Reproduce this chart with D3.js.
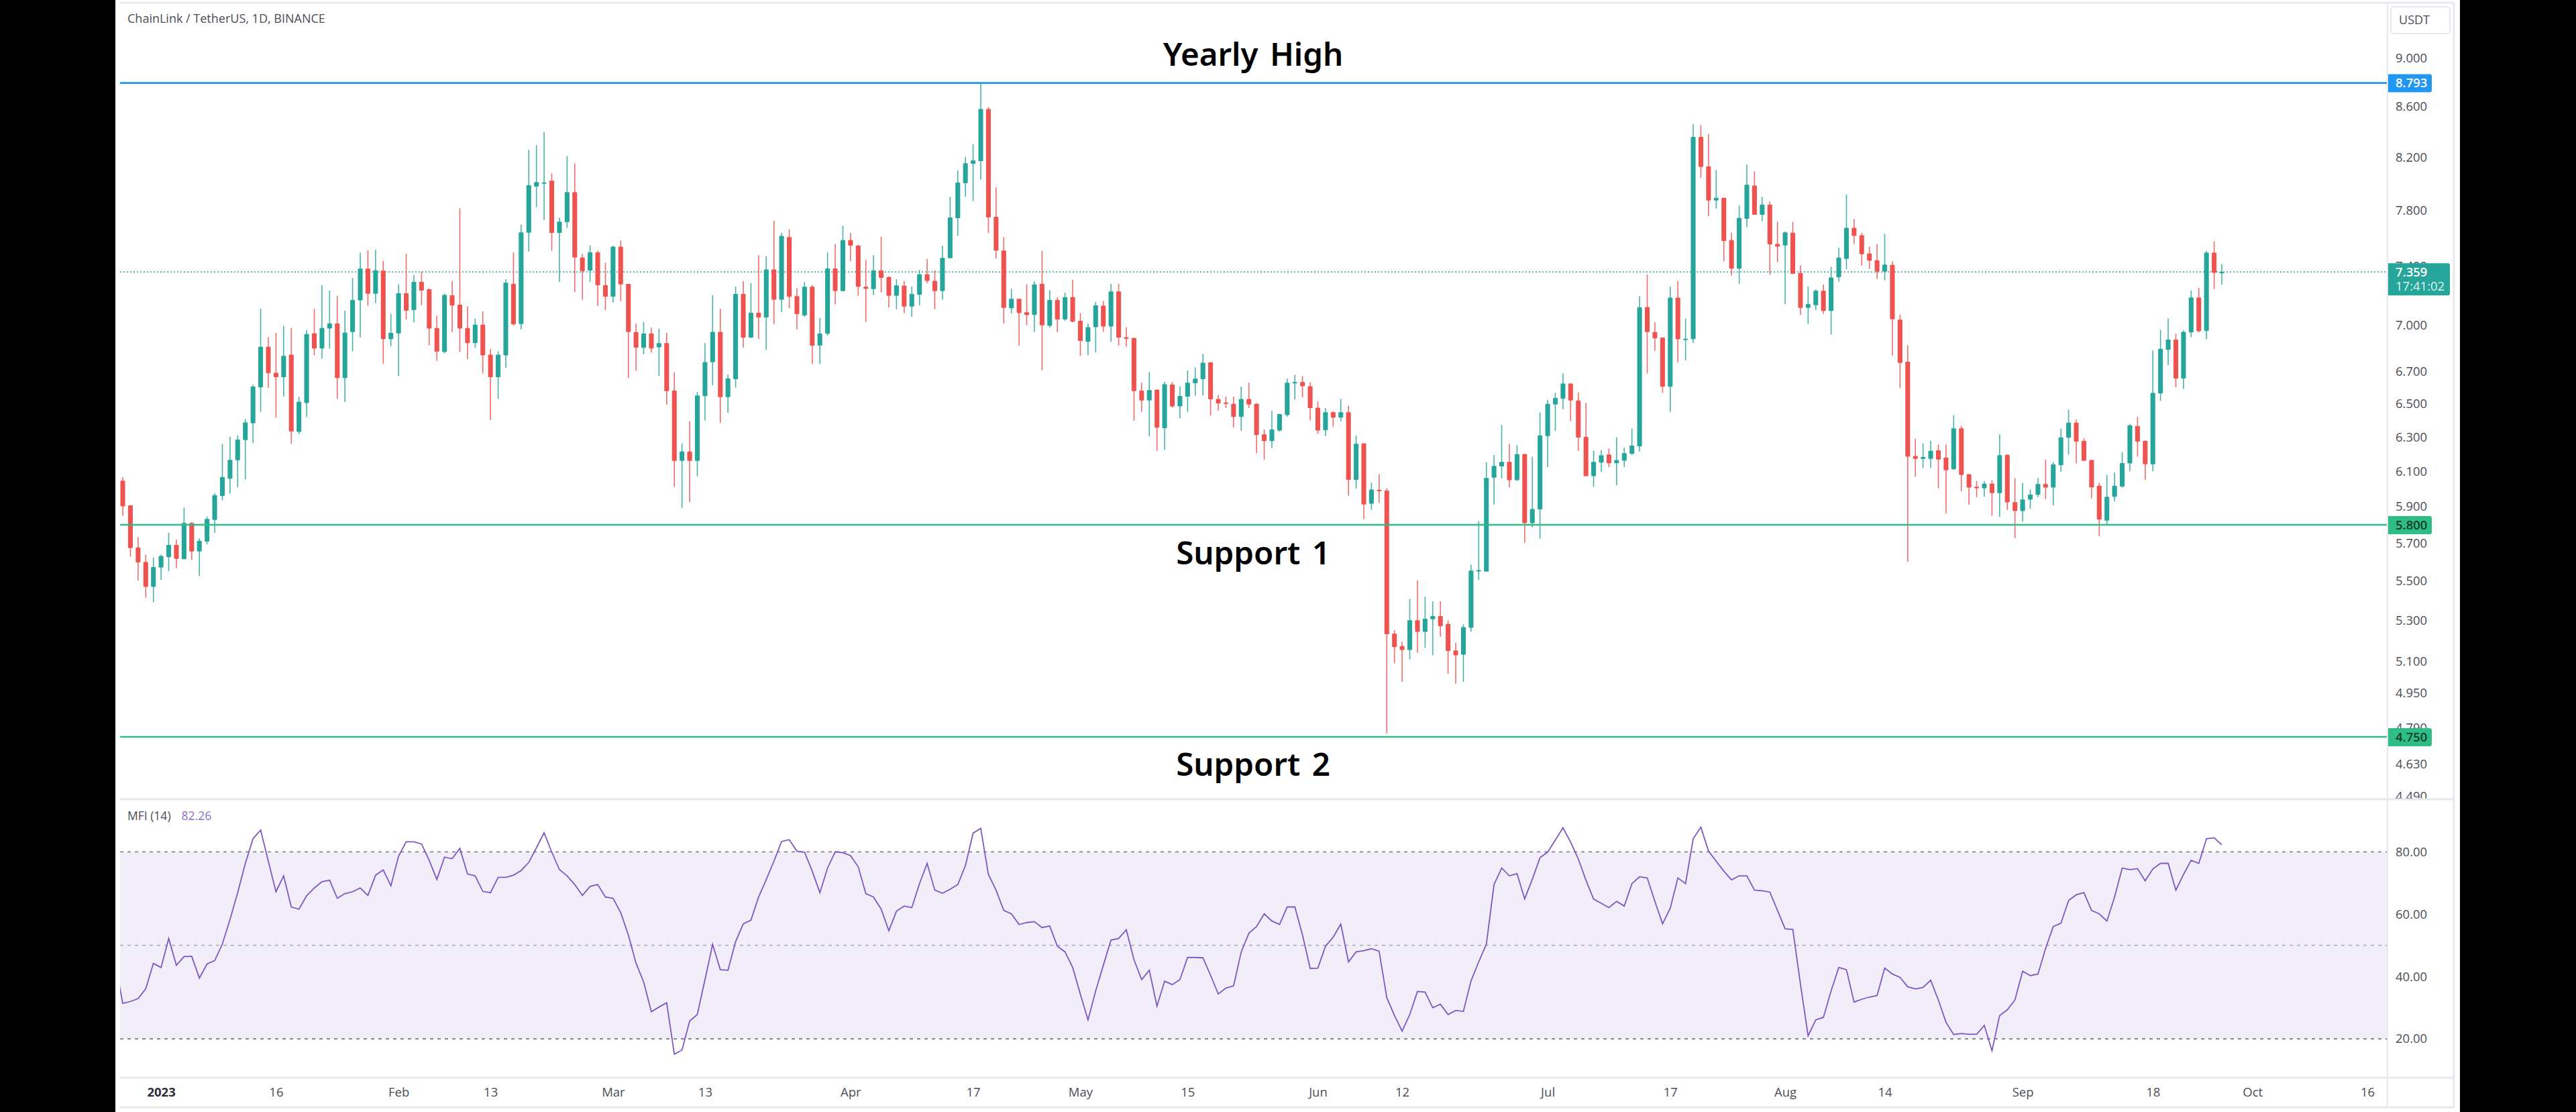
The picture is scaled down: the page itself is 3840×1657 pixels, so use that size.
<!DOCTYPE html>
<html>
<head>
<meta charset="utf-8">
<script src="https://cdn.jsdelivr.net/npm/d3@7"></script>
<style>
  html, body { margin: 0; padding: 0; background: #000; overflow: hidden; }
  text { font-family: "Open Sans", sans-serif; }
  .axis text { font-size: 18.5px; fill: #4a4d58; font-weight: 500; }
  .axis path, .axis line { display: none; }
</style>
</head>
<body>
<svg id="chart"></svg>
<script>
const width = 3840
const height = 1657

const firstDay = new Date(Date.UTC(2022, 11, 27))

const opens = [
  6.046,5.907,5.678,5.600,5.471,5.571,5.626,5.691,5.615,5.810,
  5.656,5.709,5.827,5.960,6.058,6.164,6.282,6.382,6.601,6.859,
  6.693,6.665,6.808,6.331,6.505,6.946,6.848,6.978,7.011,6.660,
  6.954,7.165,7.383,7.210,7.368,6.909,6.946,7.213,7.100,7.291,
  7.240,6.981,6.825,7.199,7.136,6.981,6.882,7.003,6.808,6.665,
  6.803,7.277,7.008,7.636,7.976,8.001,8.020,7.635,7.713,7.934,
  7.460,7.368,7.497,7.268,7.190,7.537,7.277,6.954,6.852,6.945,
  6.855,6.882,6.581,6.160,6.215,6.160,6.547,6.759,6.956,6.541,
  6.653,7.208,6.918,7.082,7.051,7.377,7.170,7.605,7.194,7.064,
  7.258,6.866,6.943,7.384,7.228,7.583,7.544,7.258,7.242,7.370,
  7.324,7.196,7.265,7.124,7.203,7.343,7.298,7.228,7.455,7.742,
  8.001,8.149,8.170,8.580,7.752,7.510,7.112,7.175,7.085,7.068,
  7.277,6.995,7.168,7.037,7.187,7.028,6.891,6.987,7.129,6.991,
  7.226,6.921,6.916,6.581,6.520,6.587,6.353,6.619,6.484,6.544,
  6.627,6.652,6.758,6.530,6.508,6.500,6.420,6.530,6.500,6.316,
  6.276,6.339,6.431,6.633,6.635,6.609,6.476,6.341,6.449,6.416,
  6.449,6.051,6.262,5.917,5.994,5.990,5.235,5.174,5.155,5.301,
  5.244,5.306,5.322,5.283,5.153,5.132,5.264,5.552,5.550,6.063,
  6.128,6.154,6.049,6.199,5.809,5.885,6.306,6.496,6.532,6.625,
  6.520,6.301,6.072,6.150,6.197,6.146,6.161,6.201,6.245,7.120,
  6.954,6.918,6.605,7.184,6.907,6.909,8.358,8.128,7.871,7.891,
  7.583,7.383,7.737,7.983,7.766,7.840,7.556,7.545,7.637,7.352,
  7.115,7.133,7.230,7.094,7.323,7.450,7.671,7.618,7.488,7.441,
  7.362,7.408,7.036,6.763,6.188,6.172,6.172,6.221,6.179,6.111,
  6.352,6.082,6.012,6.003,6.029,5.976,6.195,5.925,5.876,5.939,
  5.966,6.027,6.007,6.135,6.296,6.386,6.277,6.165,6.017,5.823,
  5.955,6.013,6.145,6.366,6.277,6.140,6.564,6.839,6.905,6.657,
  6.952,7.185,6.962,7.494,7.354
]
const highs = [
  6.065,5.907,5.733,5.639,5.624,5.639,5.757,5.720,5.895,5.815,
  5.726,5.845,5.975,6.258,6.302,6.310,6.407,6.617,7.111,6.922,
  6.949,6.994,6.981,6.543,6.967,7.108,7.268,7.232,7.196,7.095,
  7.317,7.494,7.511,7.514,7.436,7.073,7.274,7.486,7.337,7.363,
  7.246,7.062,7.210,7.297,7.814,7.125,7.043,7.092,6.845,6.829,
  7.308,7.497,7.696,8.257,8.293,8.394,8.076,7.746,8.208,8.150,
  7.486,7.546,7.508,7.423,7.543,7.581,7.277,7.011,7.021,6.983,
  6.976,6.949,6.696,6.262,6.394,6.572,6.882,7.201,7.108,6.681,
  7.259,7.296,7.282,7.477,7.470,7.722,7.637,7.660,7.249,7.291,
  7.270,7.046,7.496,7.556,7.687,7.635,7.549,7.443,7.477,7.608,
  7.329,7.310,7.298,7.258,7.372,7.451,7.370,7.544,7.899,8.098,
  8.202,8.299,8.793,8.595,7.970,7.605,7.244,7.175,7.274,7.296,
  7.506,7.233,7.184,7.217,7.305,7.080,7.010,7.154,7.161,7.277,
  7.277,6.987,6.916,6.631,6.696,6.589,6.637,6.635,6.607,6.708,
  6.727,6.813,6.760,6.554,6.544,6.544,6.607,6.631,6.504,6.345,
  6.457,6.439,6.656,6.680,6.672,6.633,6.514,6.474,6.455,6.530,
  6.488,6.308,6.264,6.035,6.083,6.003,5.252,5.195,5.409,5.504,
  5.420,5.397,5.397,5.301,5.190,5.281,5.586,5.820,6.152,6.194,
  6.372,6.260,6.252,6.203,6.184,6.447,6.524,6.567,6.688,6.627,
  6.570,6.506,6.220,6.222,6.232,6.299,6.237,6.351,7.192,7.342,
  7.019,6.918,7.259,7.297,7.044,8.461,8.451,8.380,8.101,7.891,
  7.637,7.834,8.142,8.092,7.898,7.864,7.717,7.645,7.715,7.406,
  7.260,7.240,7.273,7.396,7.528,7.916,7.735,7.635,7.537,7.556,
  7.628,7.433,7.070,6.868,6.289,6.263,6.277,6.256,6.256,6.431,
  6.366,6.084,6.044,6.043,6.049,6.316,6.198,6.061,6.034,5.996,
  6.061,6.167,6.153,6.350,6.465,6.404,6.293,6.167,6.034,6.079,
  6.092,6.210,6.379,6.420,6.280,6.835,6.968,7.044,6.942,6.966,
  7.232,7.250,7.507,7.575,7.414
]
const lows = [
  5.850,5.628,5.503,5.415,5.392,5.507,5.552,5.569,5.615,5.611,
  5.528,5.694,5.755,5.936,5.973,6.008,6.053,6.265,6.451,6.598,
  6.417,6.545,6.260,6.316,6.419,6.803,6.782,6.848,6.530,6.512,
  6.829,6.919,7.128,7.147,6.751,6.861,6.672,7.037,7.017,7.133,
  6.867,6.769,6.817,6.954,6.825,6.779,6.853,6.688,6.402,6.530,
  6.724,6.997,6.970,7.502,7.822,7.727,7.506,7.291,7.671,7.221,
  7.171,7.291,7.128,7.100,7.149,7.160,6.660,6.706,6.810,6.822,
  6.674,6.495,6.010,5.893,5.924,6.071,6.399,6.614,6.384,6.446,
  6.600,6.853,6.916,6.909,6.839,7.006,7.085,7.112,6.972,7.055,
  6.750,6.750,6.931,7.138,7.228,7.434,7.196,7.023,7.201,7.219,
  7.117,7.105,7.080,7.055,7.131,7.282,7.105,7.170,7.455,7.613,
  7.899,7.868,8.029,7.635,7.453,7.010,7.078,6.866,6.999,6.954,
  6.709,6.983,6.954,7.028,7.017,6.800,6.805,6.822,6.955,6.891,
  6.866,6.859,6.396,6.452,6.305,6.217,6.225,6.476,6.412,6.451,
  6.550,6.550,6.428,6.459,6.474,6.357,6.337,6.474,6.205,6.167,
  6.234,6.333,6.422,6.526,6.538,6.400,6.318,6.306,6.361,6.394,
  5.961,6.001,5.831,5.882,5.921,4.765,5.090,5.003,5.110,5.142,
  5.166,5.129,5.220,5.041,4.995,5.003,5.244,5.506,5.550,5.912,
  6.059,6.008,6.045,5.703,5.786,5.725,6.124,6.337,6.467,6.394,
  6.218,6.072,6.011,6.096,6.124,6.020,6.124,6.195,6.215,6.688,
  6.834,6.567,6.451,6.758,6.771,6.883,8.042,7.757,7.812,7.433,
  7.335,7.277,7.677,7.766,7.721,7.341,7.427,7.141,7.344,7.066,
  7.007,7.100,7.074,6.938,7.292,7.377,7.556,7.404,7.381,7.310,
  7.302,6.801,6.597,5.602,6.068,6.118,6.120,6.003,5.863,6.108,
  5.986,5.911,5.952,5.955,5.849,5.843,5.881,5.727,5.817,5.889,
  5.952,5.942,5.907,6.097,6.196,6.145,6.158,5.947,5.739,5.800,
  5.929,6.007,6.100,6.184,6.051,6.100,6.517,6.740,6.603,6.592,
  6.921,6.952,6.907,7.242,7.273
]
const closes = [
  5.902,5.674,5.598,5.471,5.574,5.632,5.691,5.617,5.810,5.656,
  5.713,5.832,5.964,6.067,6.166,6.285,6.387,6.606,6.859,6.690,
  6.665,6.800,6.333,6.512,6.941,6.848,6.981,7.011,6.660,6.951,
  7.168,7.383,7.210,7.371,6.909,6.949,7.213,7.095,7.291,7.231,
  6.978,6.827,7.202,7.130,6.978,6.882,7.003,6.803,6.665,6.808,
  7.285,7.005,7.639,7.985,8.010,8.007,7.635,7.716,7.934,7.460,
  7.365,7.497,7.268,7.190,7.537,7.274,6.954,6.853,6.945,6.848,
  6.882,6.578,6.160,6.215,6.160,6.551,6.761,6.956,6.541,6.657,
  7.208,6.918,7.082,7.051,7.377,7.170,7.613,7.189,7.073,7.258,
  6.866,6.945,7.384,7.228,7.583,7.544,7.258,7.244,7.370,7.319,
  7.196,7.267,7.124,7.208,7.343,7.298,7.228,7.458,7.747,8.006,
  8.152,8.175,8.580,7.747,7.508,7.115,7.175,7.080,7.066,7.272,
  6.999,7.168,7.037,7.187,7.023,6.896,6.987,7.131,6.991,7.226,
  6.918,6.911,6.578,6.520,6.585,6.356,6.621,6.484,6.548,6.631,
  6.656,6.756,6.528,6.502,6.500,6.420,6.530,6.496,6.312,6.276,
  6.345,6.437,6.631,6.635,6.609,6.474,6.339,6.449,6.416,6.449,
  6.051,6.260,5.912,5.996,5.989,5.232,5.169,5.155,5.301,5.244,
  5.309,5.322,5.272,5.150,5.129,5.267,5.555,5.558,6.061,6.131,
  6.154,6.049,6.199,5.809,5.887,6.310,6.500,6.536,6.625,6.520,
  6.297,6.072,6.154,6.192,6.146,6.165,6.205,6.249,7.118,6.954,
  6.914,6.605,7.184,6.907,6.911,8.358,8.124,7.871,7.891,7.577,
  7.383,7.743,7.990,7.766,7.840,7.552,7.537,7.639,7.346,7.115,
  7.141,7.230,7.094,7.321,7.460,7.671,7.613,7.483,7.437,7.362,
  7.410,7.038,6.755,6.184,6.172,6.182,6.219,6.168,6.106,6.352,
  6.079,6.007,6.003,6.029,5.976,6.193,5.924,5.876,5.940,5.967,
  6.027,6.007,6.139,6.298,6.386,6.273,6.161,6.008,5.828,5.955,
  6.017,6.147,6.370,6.273,6.140,6.567,6.845,6.905,6.657,6.956,
  7.185,6.960,7.494,7.354,7.359
]

// first value is the day before the first candle, only its line stub shows
const mfi = [
  44.7,
  31.4,32.0,32.9,36.1,44.2,42.9,52.2,43.6,46.4,46.5,
  39.5,44.0,45.1,50.4,58.3,66.9,76.3,84.2,87.0,77.0,
  67.2,72.3,62.3,61.6,65.9,68.4,70.4,70.9,65.1,66.6,
  67.2,68.4,66.0,72.5,74.2,69.1,78.6,83.2,83.2,82.5,
  77.3,71.1,78.3,77.8,81.1,72.9,72.3,67.3,66.9,71.8,
  71.8,72.5,74.0,76.6,81.3,86.1,79.9,74.3,72.3,69.5,
  66.0,68.9,69.5,65.5,65.1,60.5,53.3,44.3,38.2,28.7,
  30.2,31.6,15.1,16.4,25.7,27.8,39.0,50.3,42.2,42.0,
  51.2,56.9,58.1,65.5,71.1,77.0,83.3,83.9,80.2,79.9,
  73.8,66.9,74.8,80.0,79.7,78.8,75.2,66.6,65.5,61.6,
  54.7,61.0,62.6,62.1,69.8,76.3,67.7,66.7,68.0,69.5,
  75.6,86.0,87.5,72.7,67.7,61.2,60.1,56.7,57.3,57.6,
  55.7,56.2,49.7,47.9,42.9,34.3,26.1,35.4,43.6,51.7,
  52.2,55.0,45.4,39.0,42.0,30.5,38.5,37.4,39.0,46.1,
  46.1,46.0,40.4,34.4,36.3,37.0,47.9,53.9,56.0,60.1,
  57.8,56.7,62.3,62.3,53.3,42.6,42.7,49.7,52.6,56.8,
  44.7,47.9,48.3,48.9,48.1,33.2,27.5,22.5,27.8,35.2,
  35.0,30.0,31.1,27.8,29.1,28.8,38.6,44.7,50.4,69.5,
  74.8,72.3,73.0,64.9,71.2,78.1,79.9,83.8,87.7,83.1,
  77.7,70.9,64.8,63.5,62.1,64.1,62.6,69.8,72.0,71.6,
  64.1,56.9,61.9,71.6,69.8,84.2,87.9,80.2,77.0,73.8,
  71.0,72.3,72.3,67.7,67.5,67.1,61.2,55.3,55.1,37.5,
  21.0,26.1,26.9,35.4,42.9,42.2,31.8,32.7,33.4,33.9,
  42.7,40.8,39.7,36.7,36.0,36.5,38.8,32.5,25.3,21.4,
  21.7,21.5,21.5,24.3,16.2,27.5,29.3,32.5,41.7,40.3,
  40.8,49.0,56.0,57.1,64.4,66.2,66.9,61.2,60.1,57.8,
  65.5,74.8,74.3,74.6,70.7,74.5,76.3,76.3,67.7,72.7,
  77.3,76.3,84.2,84.5,82.26
]

const priceTicks = [9, 8.6, 8.2, 7.8, 7.4, 7, 6.7, 6.5, 6.3, 6.1, 5.9, 5.7, 5.5, 5.3, 5.1, 4.95, 4.79, 4.63, 4.49]
const mfiTicks = [80, 60, 40, 20]
const mfiBands = [80, 50, 20]
const timeTickDates = [
  [2023, 0, 1], [2023, 0, 16], [2023, 1, 1], [2023, 1, 13], [2023, 2, 1], [2023, 2, 13],
  [2023, 3, 1], [2023, 3, 17], [2023, 4, 1], [2023, 4, 15], [2023, 5, 1], [2023, 5, 12],
  [2023, 6, 1], [2023, 6, 17], [2023, 7, 1], [2023, 7, 14], [2023, 8, 1], [2023, 8, 18],
  [2023, 9, 1], [2023, 9, 16]
].map(d => new Date(Date.UTC(d[0], d[1], d[2])))
const timeTickLabels = ['2023', '16', 'Feb', '13', 'Mar', '13', 'Apr', '17', 'May', '15', 'Jun', '12', 'Jul', '17', 'Aug', '14', 'Sep', '18', 'Oct', '16']

const levelPrices = [8.793, 5.8, 4.75]
const levelColors = ['#2196f3', '#2ebd85', '#2ebd85']
const levelTextColors = ['#ffffff', '#0f3d2e', '#0f3d2e']
const lastPrice = 7.359
const countdown = '17:41:02'

const up = '#26a69a'
const down = '#ef5350'
const grid = '#e6e8ee'

const plotLeft = 179
const plotRight = 3559
const panelLeft = 172
const panelRight = 3667

const candles = opens.map((o, i) => ({
  date: d3.utcDay.offset(firstDay, i),
  open: o,
  high: highs[i],
  low: lows[i],
  close: closes[i]
}))

const x = d3.scaleUtc()
  .domain([firstDay, candles[candles.length - 1].date])
  .range([183, 3312])

const y = d3.scaleLog()
  .domain([4.75, 8.793])
  .range([1098, 123.6])

const yMfi = d3.scaleLinear()
  .domain([20, 80])
  .range([1548, 1269.3])

const svg = d3.select('#chart')
  .attr('width', width)
  .attr('height', height)
  .attr('viewBox', `0 0 ${width} ${height}`)
  .style('display', 'block')

svg.append('rect').attr('width', width).attr('height', height).attr('fill', '#000')
svg.append('rect').attr('x', panelLeft).attr('width', panelRight - panelLeft).attr('height', height).attr('fill', '#fff')

const defs = svg.append('defs')
defs.append('clipPath').attr('id', 'plot-clip').append('rect')
  .attr('x', plotLeft).attr('y', 4).attr('width', plotRight - plotLeft).attr('height', 1186)
defs.append('clipPath').attr('id', 'mfi-clip').append('rect')
  .attr('x', plotLeft).attr('y', 1192).attr('width', plotRight - plotLeft).attr('height', 412)
defs.append('clipPath').attr('id', 'axis-clip').append('rect')
  .attr('x', plotRight).attr('y', 4).attr('width', 98).attr('height', 1186)

// price axis, drawn first so the price tags can cover ticks
// clip sits on an outer group, the axis transform would shift it otherwise
svg.append('g')
  .attr('clip-path', 'url(#axis-clip)')
  .append('g')
  .attr('class', 'axis')
  .attr('transform', `translate(${plotRight},0)`)
  .call(d3.axisRight(y).tickValues(priceTicks).tickFormat(d3.format('.3f')).tickSize(0).tickPadding(12))

// main pane
const main = svg.append('g').attr('clip-path', 'url(#plot-clip)')

main.append('line')
  .attr('x1', plotLeft).attr('x2', plotRight)
  .attr('y1', y(lastPrice)).attr('y2', y(lastPrice))
  .attr('stroke', up).attr('stroke-width', 1.5).attr('stroke-dasharray', '2 3')

const candle = main.selectAll('.candle')
  .data(candles)
  .enter().append('g')
  .attr('class', 'candle')

const bodyWidth = (x(d3.utcDay.offset(firstDay, 1)) - x(firstDay)) * 0.62

candle.append('line')
  .attr('x1', d => x(d.date)).attr('x2', d => x(d.date))
  .attr('y1', d => y(d.high)).attr('y2', d => y(d.low))
  .attr('stroke', d => d.close >= d.open ? up : down)
  .attr('stroke-opacity', 0.85)
  .attr('stroke-width', 1.6)

candle.append('rect')
  .attr('x', d => x(d.date) - bodyWidth / 2)
  .attr('width', bodyWidth)
  .attr('y', d => y(Math.max(d.open, d.close)))
  .attr('height', d => Math.max(2, Math.abs(y(d.open) - y(d.close))))
  .attr('rx', 1)
  .attr('fill', d => d.close >= d.open ? up : down)

main.selectAll('.level')
  .data(levelPrices)
  .enter().append('line')
  .attr('class', 'level')
  .attr('x1', plotLeft).attr('x2', plotRight)
  .attr('y1', d => y(d)).attr('y2', d => y(d))
  .attr('stroke', (d, i) => levelColors[i])
  .attr('stroke-width', 2.6)

// price tags
const tag = svg.selectAll('.tag')
  .data(levelPrices)
  .enter().append('g')
  .attr('class', 'tag')
  .attr('transform', d => `translate(${plotRight - 1},${y(d)})`)

tag.append('rect')
  .attr('y', -13).attr('width', 67).attr('height', 27).attr('rx', 3)
  .attr('fill', (d, i) => levelColors[i])

tag.append('text')
  .attr('x', 13).attr('dy', '0.36em')
  .attr('font-size', 18.5)
  .attr('font-weight', 600)
  .attr('fill', (d, i) => levelTextColors[i])
  .text(d => d3.format('.3f')(d))

const lastTag = svg.append('g').attr('transform', `translate(${plotRight - 1},${y(lastPrice)})`)
lastTag.append('rect').attr('y', -13).attr('width', 94).attr('height', 48).attr('rx', 3).attr('fill', up)
lastTag.append('text').attr('x', 13).attr('dy', '0.36em').attr('font-size', 18.5).attr('font-weight', 600).attr('fill', '#fff').text(d3.format('.3f')(lastPrice))
lastTag.append('text').attr('x', 13).attr('y', 21.5).attr('dy', '0.36em').attr('font-size', 18.5).attr('font-weight', 500).attr('fill', '#dff3f0').text(countdown)

// MFI pane
const mfiPane = svg.append('g').attr('clip-path', 'url(#mfi-clip)')

mfiPane.append('rect')
  .attr('x', plotLeft).attr('width', plotRight - plotLeft)
  .attr('y', yMfi(80)).attr('height', yMfi(20) - yMfi(80))
  .attr('fill', '#7e57c2').attr('fill-opacity', 0.1)

mfiPane.selectAll('.band')
  .data(mfiBands)
  .enter().append('line')
  .attr('class', 'band')
  .attr('x1', plotLeft).attr('x2', plotRight)
  .attr('y1', d => yMfi(d)).attr('y2', d => yMfi(d))
  .attr('stroke', '#787b86')
  .attr('stroke-width', 1.8)
  .attr('stroke-opacity', d => d === 50 ? 0.55 : 0.9)
  .attr('stroke-dasharray', '5 6')

const mfiLine = d3.line()
  .x((d, i) => x(d3.utcDay.offset(firstDay, i - 1)))
  .y(d => yMfi(d))

mfiPane.append('path')
  .datum(mfi)
  .attr('fill', 'none')
  .attr('stroke', '#7e57c2')
  .attr('stroke-width', 1.8)
  .attr('d', mfiLine)

svg.append('g')
  .attr('class', 'axis')
  .attr('transform', `translate(${plotRight},0)`)
  .call(d3.axisRight(yMfi).tickValues(mfiTicks).tickFormat(d3.format('.2f')).tickSize(0).tickPadding(12))

// time axis
const timeAxis = svg.append('g')
  .attr('class', 'axis')
  .attr('transform', 'translate(0,1606)')
  .call(d3.axisBottom(x).tickValues(timeTickDates).tickFormat((d, i) => timeTickLabels[i]).tickSize(0).tickPadding(15))

timeAxis.selectAll('text').filter((d, i) => i === 0)
  .style('font-weight', 700)
  .style('fill', '#2a2e39')

// frame lines
const hDividers = [4, 1191, 1606, 1650]
svg.selectAll('.divider')
  .data(hDividers)
  .enter().append('line')
  .attr('class', 'divider')
  .attr('x1', panelLeft + 6).attr('x2', 3658)
  .attr('y1', d => d).attr('y2', d => d)
  .attr('stroke', grid).attr('stroke-width', 3)

svg.append('line').attr('x1', plotRight).attr('x2', plotRight).attr('y1', 4).attr('y2', 1650).attr('stroke', grid).attr('stroke-width', 2)
svg.append('line').attr('x1', 3658).attr('x2', 3658).attr('y1', 4).attr('y2', 1650).attr('stroke', grid).attr('stroke-width', 3)

// USDT box
svg.append('rect')
  .attr('x', 3564).attr('y', 10).attr('width', 88).attr('height', 40).attr('rx', 5)
  .attr('fill', '#fff').attr('stroke', '#e6e8ee').attr('stroke-width', 2)
svg.append('text')
  .attr('x', 3599).attr('y', 30).attr('dy', '0.36em').attr('text-anchor', 'middle')
  .attr('font-size', 18).attr('font-weight', 500).attr('fill', '#4a4d58').text('USDT')

// header and legend
svg.append('text').attr('x', 190).attr('y', 28).attr('dy', '0.36em')
  .attr('font-size', 18).attr('font-weight', 500).attr('fill', '#4a4d58').text('ChainLink / TetherUS, 1D, BINANCE')

const legend = svg.append('text').attr('x', 190).attr('y', 1216).attr('dy', '0.36em').attr('font-size', 17.5).attr('font-weight', 500).attr('fill', '#4a4d58')
legend.append('tspan').text('MFI (14)')
legend.append('tspan').attr('dx', 16).attr('fill', '#8e72c9').text(d3.format('.2f')(mfi[mfi.length - 1]))

// hand-drawn annotations
const notes = [['Yearly High', 81], ['Support 1', 824], ['Support 2', 1139]]
svg.selectAll('.note')
  .data(notes)
  .enter().append('text')
  .attr('class', 'note')
  .attr('x', 1868).attr('y', d => d[1]).attr('dy', '0.36em')
  .attr('text-anchor', 'middle')
  .style('font-family', '"Noto Sans", sans-serif')
  .style('word-spacing', '5px')
  .attr('font-size', 47.5)
  .attr('font-weight', 600)
  .attr('fill', '#000')
  .text(d => d[0])
</script>
</body>
</html>
